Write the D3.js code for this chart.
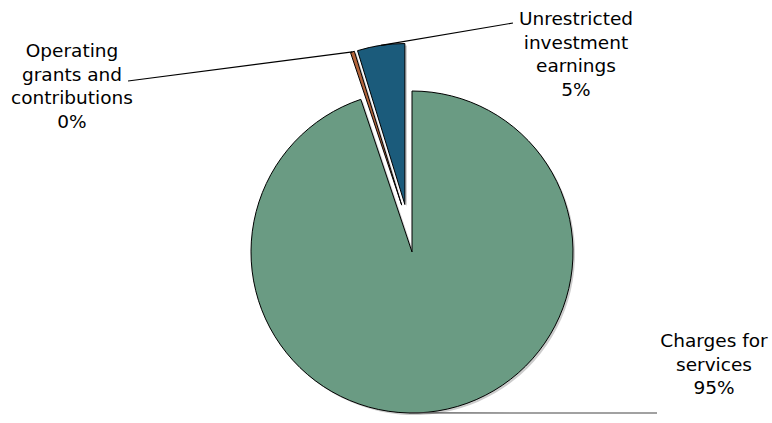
<!DOCTYPE html>
<html>
<head>
<meta charset="utf-8">
<script src="https://cdn.jsdelivr.net/npm/d3@7"></script>
<style>
  body { margin: 0; background: #fff; }
  text { font-family: "DejaVu Sans", Verdana, sans-serif; font-size: 18.5px; fill: #000; }
</style>
</head>
<body>
<div id="chart"></div>
<script>
// slices, clockwise from 12 o'clock
const categories = ["Charges for services", "Operating grants and contributions", "Unrestricted investment earnings"];
const values = [94.85, 0.4, 4.75];
const pctLabels = ["95%", "0%", "5%"];
const colors = ["#6a9b83", "#b3643a", "#1b5b7b"];

// label text broken into lines, and where each label sits
const labelLines = [
  ["Charges for", "services", "95%"],
  ["Operating", "grants and", "contributions", "0%"],
  ["Unrestricted", "investment", "earnings", "5%"]
];
const labelPos = [
  {x: 714, y: 347, lx: 657, ly: 413},
  {x: 72, y: 57, lx: 128, ly: 81},
  {x: 576, y: 25, lx: 513, ly: 23}
];

const width = 772, height = 423;
const cx = 412, cy = 252, radius = 161;
// explode distance and direction (degrees from 12 o'clock, null = slice middle)
const explodeDist = [0, 48, 48];
const explodeDir = [null, -12.4, null];

const svg = d3.select("#chart").append("svg")
    .attr("width", width)
    .attr("height", height);

const pie = d3.pie().sort(null).value(d => d)(values);
const arc = d3.arc().innerRadius(0).outerRadius(radius);

const offset = (d, i) => {
    const a = explodeDir[i] === null ? (d.startAngle + d.endAngle) / 2 : explodeDir[i] * Math.PI / 180;
    return [Math.sin(a) * explodeDist[i], -Math.cos(a) * explodeDist[i]];
};

const g = svg.append("g").attr("transform", "translate(" + cx + "," + cy + ")");

// faint shadow
g.selectAll("path.shadow")
    .data(pie)
    .enter()
    .append("path")
    .attr("class", "shadow")
    .attr("d", arc)
    .attr("transform", (d, i) => { const o = offset(d, i); return "translate(" + (o[0] + 2) + "," + (o[1] + 2) + ")"; })
    .attr("fill", "#999")
    .attr("opacity", 0.5);

g.selectAll("path.slice")
    .data(pie)
    .enter()
    .append("path")
    .attr("class", "slice")
    .attr("d", arc)
    .attr("transform", (d, i) => { const o = offset(d, i); return "translate(" + o[0] + "," + o[1] + ")"; })
    .attr("fill", (d, i) => colors[i])
    .attr("stroke", "#000")
    .attr("stroke-width", 1);

// leader lines: label end -> point on the slice's outer edge
const anchorAngle = (d, i) => i === 0 ? Math.PI + 0.02 : (d.startAngle + d.endAngle) / 2;
pie.forEach((d, i) => {
    const o = offset(d, i);
    const a = anchorAngle(d, i);
    const px = cx + o[0] + Math.sin(a) * radius;
    const py = cy + o[1] - Math.cos(a) * radius;
    svg.append("line")
        .attr("x1", labelPos[i].lx)
        .attr("y1", labelPos[i].ly)
        .attr("x2", px)
        .attr("y2", py)
        .attr("stroke", i === 0 ? "#444" : "#000")
        .attr("stroke-width", 1.2);
});

labelLines.forEach((lines, i) => {
    const t = svg.append("text")
        .attr("text-anchor", "middle")
        .attr("x", labelPos[i].x)
        .attr("y", labelPos[i].y);
    lines.forEach((s, k) => {
        t.append("tspan")
            .attr("x", labelPos[i].x)
            .attr("dy", k === 0 ? 0 : 23.5)
            .text(s);
    });
});
</script>
</body>
</html>
